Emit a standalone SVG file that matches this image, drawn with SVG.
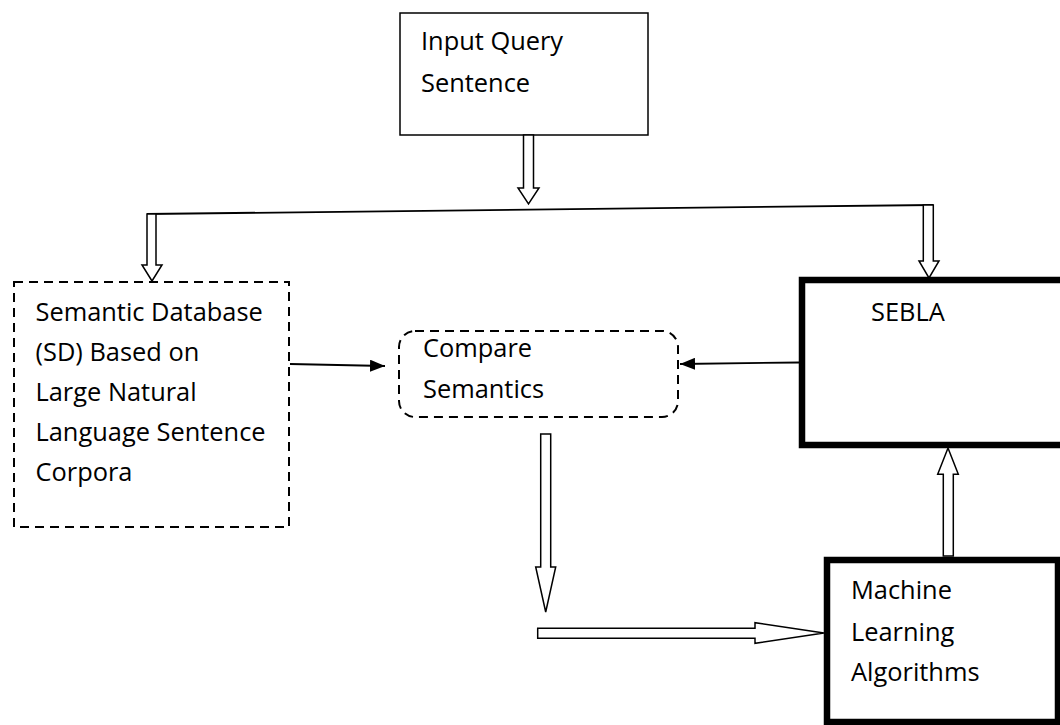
<svg xmlns="http://www.w3.org/2000/svg" width="1060" height="725" viewBox="0 0 1060 725">
<style>
  .t { font-family: "Open Sans", "Liberation Sans", sans-serif; font-size: 25.4px; fill: #000; }
  .box { fill: #fff; stroke: #000; stroke-width: 1.5; }
  .dash { fill: #fff; stroke: #000; stroke-width: 2; stroke-dasharray: 9 6; }
  .thick { fill: #fff; stroke: #000; stroke-width: 6.5; }
  .blk { fill: #fff; stroke: #000; stroke-width: 1.5; stroke-linejoin: miter; }
  .ln { fill: none; stroke: #000; stroke-width: 1.8; }
</style>
<defs>
  <marker id="ah" markerUnits="userSpaceOnUse" markerWidth="16" markerHeight="12" refX="15" refY="6" orient="auto">
    <path d="M0,0 L15,6 L0,12 Z" fill="#000"/>
  </marker>
</defs>
<rect width="1060" height="725" fill="#fff"/>

<g id="input-query">
  <rect class="box" x="400" y="13" width="248" height="122"/>
  <text class="t" x="421" y="50">Input Query</text>
  <text class="t" x="421" y="92">Sentence</text>
</g>

<g id="semantic-database">
  <rect class="dash" x="14" y="282" width="275" height="245"/>
  <text class="t" x="35.5" y="321">Semantic Database</text>
  <text class="t" x="35.5" y="361">(SD) Based on</text>
  <text class="t" x="35.5" y="401">Large Natural</text>
  <text class="t" x="35.5" y="441">Language Sentence</text>
  <text class="t" x="35.5" y="481">Corpora</text>
</g>

<g id="compare-semantics">
  <rect class="dash" x="399" y="331" width="279" height="86" rx="16" ry="16"/>
  <text class="t" x="423" y="357">Compare</text>
  <text class="t" x="423" y="398">Semantics</text>
</g>

<g id="sebla">
  <rect class="thick" x="802" y="280" width="300" height="165"/>
  <text class="t" x="871" y="320.5">SEBLA</text>
</g>

<g id="machine-learning">
  <rect class="thick" x="827" y="560" width="231" height="162"/>
  <text class="t" x="851" y="599">Machine</text>
  <text class="t" x="851" y="641">Learning</text>
  <text class="t" x="851" y="681">Algorithms</text>
</g>

<g id="connectors">
  <line class="ln" x1="147" y1="214" x2="933.3" y2="205"/>
  <polygon class="blk" points="523.5,135 533.5,135 533.5,188 539,188 528.5,204 518,188 523.5,188"/>
  <polygon class="blk" points="147,214 156,214 156,265 162,265 152,281 142,265 147,265"/>
  <polygon class="blk" points="923.3,205 933.3,205 933.3,261 939,261 929,278 919,261 923.3,261"/>
  <line class="ln" x1="290" y1="364" x2="385" y2="366" marker-end="url(#ah)"/>
  <line class="ln" x1="799" y1="362.5" x2="680" y2="364" marker-end="url(#ah)"/>
  <polygon class="blk" points="540.7,434 550.7,434 550.7,567 555.7,567 545.7,612 535.7,567 540.7,567"/>
  <polygon class="blk" points="537.7,628.3 755,628.3 755,622.7 824,633 755,643.3 755,638.3 537.7,638.3"/>
  <polygon class="blk" points="943.3,556 953.3,556 953.3,474.3 958.3,474.3 948,448 937.7,474.3 943.3,474.3"/>
</g>
</svg>
